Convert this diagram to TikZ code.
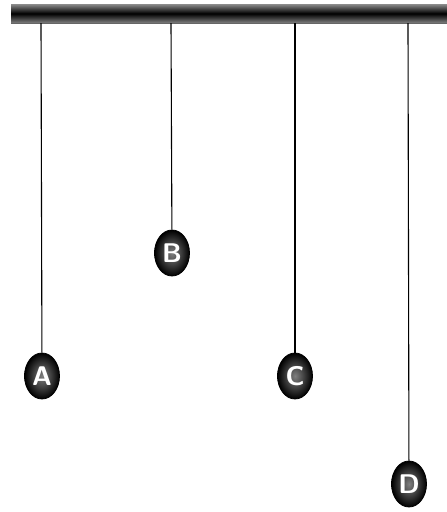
\documentclass[tikz,border=0pt]{standalone}
\usepackage{tikz}
\usetikzlibrary{shapes.geometric}

\begin{document}
\begin{tikzpicture}[x=1pt,y=-1pt,
  bob/.style={ellipse,draw=black,line width=0.8pt,inner sep=0pt,minimum width=35pt,minimum height=46pt,
    inner color=black!50,outer color=black,text=white,font=\fontsize{27}{27}\selectfont\sffamily\bfseries},
  string/.style={line width=1.1pt,black}]
\useasboundingbox (0,0) rectangle (447,512);
\shade[top color=black!45,bottom color=black!50,middle color=black] (11,4) rectangle (447,23);
\draw[black!60,line width=0.6pt] (11,23) -- (447,23);
\coordinate (ta) at (41,23);
\coordinate (tb) at (171,23);
\coordinate (tc) at (295,23);
\coordinate (td) at (408,23);
\node[bob] (A) at (42,376) {A};
\node[bob] (B) at (172,253) {B};
\node[bob] (C) at (295,376) {C};
\node[bob] (D) at (409,484) {D};
\draw[string] (ta) -- (A);
\draw[string] (tb) -- (B);
\draw[string] (tc) -- (C);
\draw[string] (td) -- (D);
\end{tikzpicture}
\end{document}
